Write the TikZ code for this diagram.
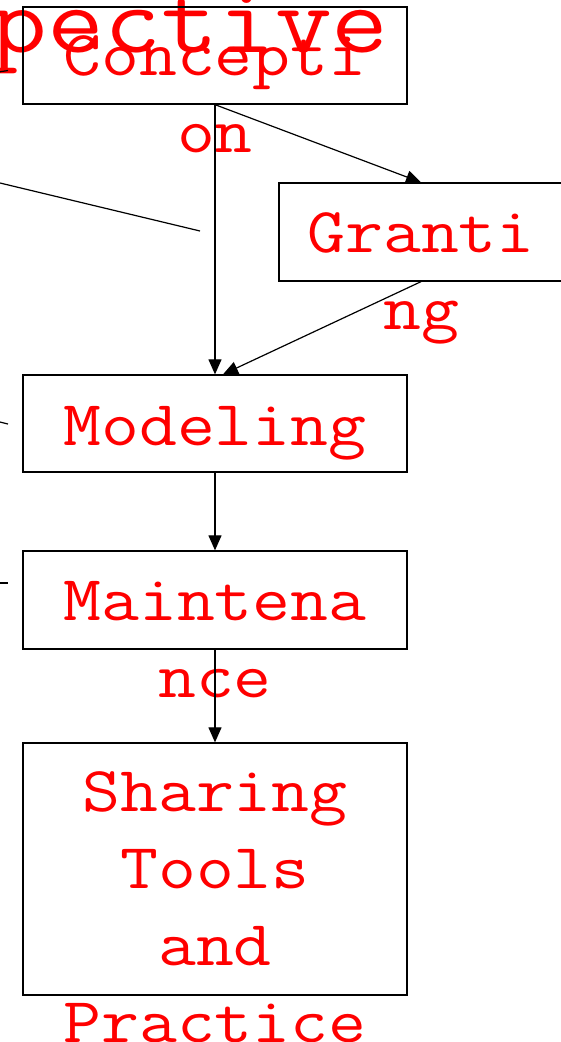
\documentclass[tikz,border=0pt]{standalone}
\usepackage{fontspec}
\newfontfamily\monofnt{Latin Modern Mono}[FakeStretch=1.15]
\usetikzlibrary{arrows.meta}
\begin{document}
\begin{tikzpicture}[x=1pt,y=-1pt,
  box/.style={draw=black, line width=1.3pt, minimum width=384pt, minimum height=97pt, inner sep=0pt},
  lbl/.style={text=red, inner sep=0pt, anchor=base, font=\monofnt\fontsize{64}{77}\selectfont},
  arr/.style={draw=black, line width=1.2pt, -{Triangle[length=15pt,width=13pt]}},
  ln/.style={draw=black, line width=1.2pt}]
\useasboundingbox (0,0) rectangle (560,1042);
% title (partly outside the page)
\node[text=red, inner sep=0pt, anchor=base east, font=\monofnt\fontsize{96}{115}\selectfont] (title) at (389,52) {Perspective};
% boxes
\node[box] (concept) at (215,55.5) {};
\node[box, minimum width=284pt, minimum height=98pt] (grant) at (421,232) {};
\node[box] (model) at (215,423.5) {};
\node[box, minimum height=98pt] (maint) at (215,600) {};
\node[box, minimum height=252pt] (share) at (215,869) {};
% labels
\node[lbl] (tconcept) at (215,75) {\begin{tabular}[t]{@{}c@{}}Concepti\\on\end{tabular}};
\node[lbl] (tgrant) at (421,252) {\begin{tabular}[t]{@{}c@{}}Granti\\ng\end{tabular}};
\node[lbl] (tmodel) at (215,445) {\begin{tabular}[t]{@{}c@{}}Modeling\end{tabular}};
\node[lbl] (tmaint) at (215,620) {\begin{tabular}[t]{@{}c@{}}Maintena\\nce\end{tabular}};
\node[lbl] (tshare) at (215,811) {\begin{tabular}[t]{@{}c@{}}Sharing\\Tools\\and\\Practice\end{tabular}};
% connectors
\draw[arr] (concept.south) -- (grant.north);
\draw[arr] (concept.south) -- (model.north);
\draw[arr] (grant.south) -- ([xshift=8pt]model.north);
\draw[arr] (model.south) -- (maint.north);
\draw[arr] (maint.south) -- (share.north);
% edges coming from outside the picture
\coordinate (a0) at (-100,159);
\coordinate (a1) at (200,231);
\coordinate (b0) at (-20,75);
\coordinate (b1) at (8,70.5);
\coordinate (c0) at (-20,417);
\coordinate (c1) at (8,424);
\coordinate (d0) at (-20,583);
\coordinate (d1) at (8,583);
\draw[ln] (a0) -- (a1);
\draw[ln] (b0) -- (b1);
\draw[ln] (c0) -- (c1);
\draw[ln] (d0) -- (d1);
\end{tikzpicture}
\end{document}
